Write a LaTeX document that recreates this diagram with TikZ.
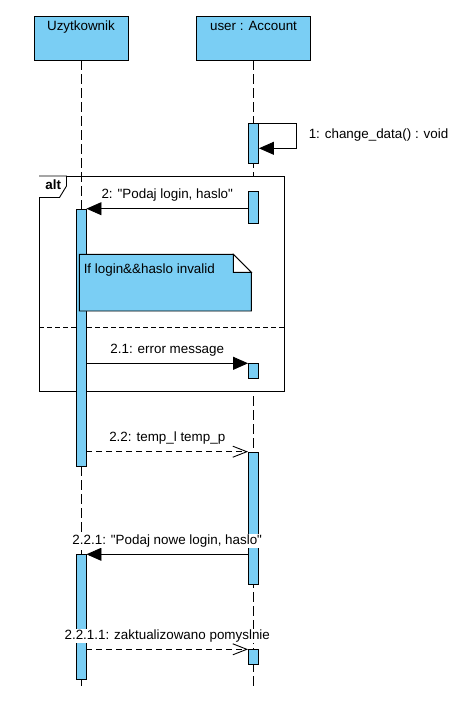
\documentclass[tikz,border=0pt]{standalone}
\usepackage{fontspec}
\setmainfont{Liberation Sans}
\usetikzlibrary{arrows.meta}
\definecolor{umlblue}{RGB}{122,206,244}

\begin{document}
\begin{tikzpicture}[x=1pt,y=-1pt,line width=0.9pt,
	every node/.style={font=\fontsize{13.4}{15}\selectfont, inner sep=0pt},
	head/.style={draw, fill=umlblue, minimum width=#1, text height=15pt, text depth=29pt},
	act/.style={draw, fill=umlblue, minimum width=10pt, minimum height=#1, anchor=north},
	lifeline/.style={dash pattern=on 10pt off 4pt},
	call/.style={-{Triangle[length=15pt,width=13pt]}},
	reply/.style={dash pattern=on 6pt off 4pt, -{Straight Barb[length=14pt,width=11pt]}},
	msglabel/.style={midway, anchor=base, yshift=10pt, fill=white, inner sep=1pt}]
	\useasboundingbox (0,0) rectangle (472,708);

	% heads and lifelines
	\node[head=94pt] (user) at (81,38) {Uzytkownik};
	\node[head=114pt] (acc) at (253.5,38) {user : Account};
	\coordinate (userend) at (81,687);
	\coordinate (accend) at (253.5,688);
	\draw[lifeline] (acc.south) -- (accend);

	% alt frame
	\draw[fill=white] (39,176) rectangle (284,391);
	\draw[fill=white] (39,176) -- (66.5,176) -- (66.5,186) -- (59.5,197.5) -- (39,197.5);
	\node[anchor=base west, font=\fontsize{13.4}{15}\selectfont\bfseries] (alttag) at (45,190) {alt};
	\draw[dash pattern=on 5pt off 3pt] (39,327.7) -- (284,327.7);

	\draw[lifeline] (user.south) -- (userend);

	% activations
	\node[act=40pt] (a1) at (253.5,123.3) {};
	\node[act=32pt] (a2) at (253.5,191.3) {};
	\node[act=14.4pt] (a3) at (253.5,363.3) {};
	\node[act=132.3pt] (a4) at (253.5,451.7) {};
	\node[act=14.7pt] (a5) at (253.5,649.3) {};
	\node[act=257.3pt] (l1) at (81,208.7) {};
	\node[act=125pt] (l2) at (81,554.3) {};

	% note
	\draw[fill=umlblue] (79.3,254.3) -- (233.3,254.3) -- (251.3,272.3) -- (251.3,311) -- (79.3,311) -- cycle;
	\draw[fill=white] (233.3,254.3) -- (233.3,272.3) -- (251.3,272.3) -- cycle;
	\node[anchor=base west] (notetxt) at (83.3,273.3) {If login\&\&haslo invalid};

	% messages
	\draw[call] (a1.north east) -- ++(37,0) |- ([yshift=-25pt]a1.north east);
	\node[anchor=base west] (selflbl) at (308.3,138.3) {1: change\_data() : void};
	\draw[call] (a2.west |- l1.north) -- node[msglabel] {2: \textquotedbl Podaj login, haslo\textquotedbl} (l1.north east);
	\draw[call] (l1.east |- a3.north) -- node[msglabel] {2.1: error message} (a3.north west);
	\draw[reply] (l1.east |- a4.north) -- node[msglabel] {2.2: temp\_l temp\_p} (a4.north west);
	\draw[call] (a4.west |- l2.north) -- node[msglabel] {2.2.1: \textquotedbl Podaj nowe login, haslo\textquotedbl} (l2.north east);
	\draw[reply] (l2.east |- a5.north) -- node[msglabel] {2.2.1.1: zaktualizowano pomyslnie} (a5.north west);
\end{tikzpicture}
\end{document}
